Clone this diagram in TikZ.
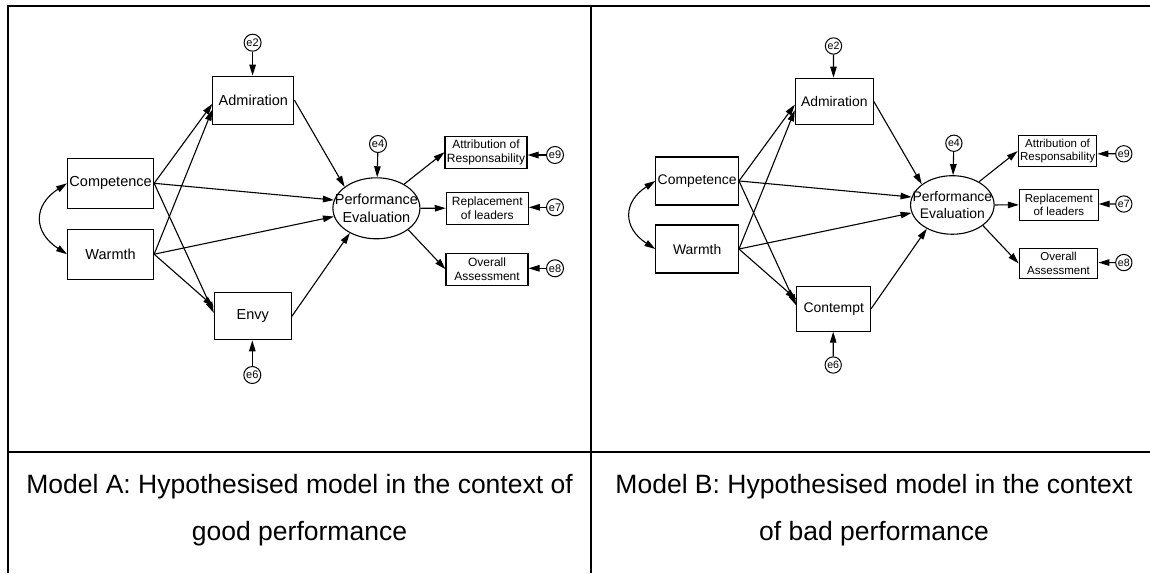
\documentclass[tikz,border=0pt]{standalone}
\usepackage{fontspec}
\setmainfont{Liberation Sans}
\usetikzlibrary{arrows.meta,shapes.geometric}

\tikzset{
  obs/.style={draw, line width=1.1pt, rectangle, inner sep=0pt, align=center,
    font=\fontsize{14.5}{17.5}\selectfont},
  ind/.style={draw, line width=1.1pt, rectangle, inner sep=0pt, align=center,
    font=\fontsize{12}{14}\selectfont, minimum width=82pt, minimum height=32pt},
  lat/.style={draw, line width=1.1pt, ellipse, inner sep=0pt,
    minimum width=87pt, minimum height=61pt},
  lattext/.style={inner sep=0pt, align=center, font=\fontsize{14.5}{17.5}\selectfont},
  err/.style={draw, line width=1pt, circle, inner sep=0pt, minimum size=17pt,
    font=\fontsize{11}{11}\selectfont},
  effect/.style={line width=1.1pt, -{Triangle[length=11pt,width=6.5pt]}},
  cov/.style={line width=1.1pt,
    {Triangle[length=11pt,width=6.5pt]}-{Triangle[length=11pt,width=6.5pt]}},
  tablerule/.style={line width=2pt},
  captext/.style={anchor=base, inner sep=0pt, font=\fontsize{26.5}{26.5}\selectfont},
}

% One structural equation model; #1 = name prefix, #2 = mediating emotion
\newcommand\semmodel[2]{%
  % exogenous variables
  \node[obs, minimum width=86pt, minimum height=50pt] (#1comp) at (110.6,183.3) {Competence};
  \node[obs, minimum width=86pt, minimum height=50pt] (#1warm) at (110.6,254.2) {Warmth};
  % mediators
  \node[obs, minimum width=81pt, minimum height=48pt] (#1adm) at (253.4,100.2) {Admiration};
  \node[obs, minimum width=77pt, minimum height=47pt] (#1med) at (252.8,316.3) {#2};
  % latent outcome
  \node[lat] (#1perf) at (376.4,208.3) {};
  \node[lattext] (#1perftext) at (376.4,208.3) {Performance\\Evaluation};
  % indicators
  \node[ind] (#1attr) at (486,152.2) {Attribution of\\Responsability};
  \node[ind] (#1repl) at (487.3,208.2) {Replacement\\of leaders};
  \node[ind] (#1ovr) at (487,269.2) {Overall\\Assessment};
  % residuals
  \node[err] (#1e2) at (252.6,42.7) {e2};
  \node[err] (#1e4) at (378,144) {e4};
  \node[err] (#1e6) at (252.3,375) {e6};
  \node[err] (#1e9) at (555,155) {e9};
  \node[err] (#1e7) at (555,207.3) {e7};
  \node[err] (#1e8) at (555,268.3) {e8};
  % covariance
  \draw[cov] (#1comp.west) .. controls +(-34,22) and +(-34,-22) .. (#1warm.west);
  % structural paths
  \draw[effect] (#1comp.east) -- (#1adm.185);
  \draw[effect] (#1warm.east) -- (#1adm.193);
  \draw[effect] (#1comp.east) -- (#1perf.169);
  \draw[effect] (#1warm.east) -- (#1perf.191);
  \draw[effect] (#1comp.east) -- (#1med.175);
  \draw[effect] (#1warm.east) -- (#1med.166);
  \draw[effect] (#1adm.east) -- (#1perf.146);
  \draw[effect] (#1med.east) -- (#1perf.223);
  % measurement paths
  \draw[effect] (#1perf.41) -- (#1attr.west);
  \draw[effect] (#1perf.east) -- (#1repl.west);
  \draw[effect] (#1perf.-34) -- (#1ovr.west);
  % residual paths
  \draw[effect] (#1e2) -- (#1e2 |- #1adm.north);
  \draw[effect] (#1e4) -- (#1perf);
  \draw[effect] (#1e6) -- (#1e6 |- #1med.south);
  \draw[effect] (#1e9) -- (#1e9 -| #1attr.east);
  \draw[effect] (#1e7) -- (#1e7 -| #1repl.east);
  \draw[effect] (#1e8) -- (#1e8 -| #1ovr.east);
}

\begin{document}
\begin{tikzpicture}[x=1pt,y=-1pt]
\useasboundingbox (0,0) rectangle (1150,573);

% table rules
\draw[tablerule, line join=miter] (8,573) -- (8,6) -- (1150,6);
\draw[tablerule] (591,6) -- (591,573);
\draw[tablerule] (8,452) -- (1150,452);

% Model A
\semmodel{A}{Envy}

% Model B
\begin{scope}[shift={(591,5)}, scale=0.96, transform shape]
  \semmodel{B}{Contempt}
\end{scope}

% captions
\node[captext] (capA1) at (299.5,493) {Model A: Hypothesised model in the context of};
\node[captext] (capA2) at (299.5,540) {good performance};
\node[captext] (capB1) at (874,493) {Model B: Hypothesised model in the context};
\node[captext] (capB2) at (874,540) {of bad performance};
\end{tikzpicture}
\end{document}
